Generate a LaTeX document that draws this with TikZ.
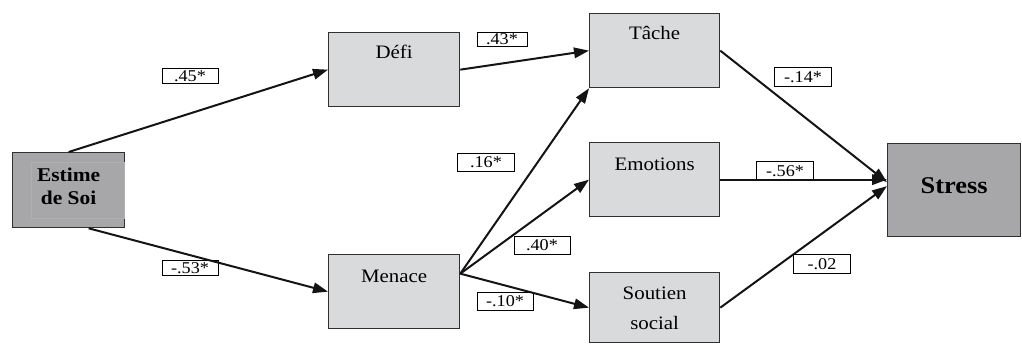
\documentclass[tikz,border=0pt]{standalone}
\usepackage{fontspec}
\setmainfont[FakeStretch=1.1]{Liberation Serif}
\usetikzlibrary{arrows.meta}
\definecolor{boxfill}{HTML}{D9DADC}
\definecolor{darkfill}{HTML}{A7A7A9}
\definecolor{boxedge}{HTML}{303030}
\definecolor{faintedge}{HTML}{AFAFB1}
\newcommand\mybtext[4]{\parbox[c][#2][t]{#1}{\centering\rule{0pt}{#3}#4}}
\begin{document}
\begin{tikzpicture}[x=1pt,y=-1pt,
  box/.style={draw=boxedge, line width=1.3pt, fill=boxfill, inner sep=0pt, anchor=north west,
    font=\fontsize{19}{22}\selectfont},
  darkbox/.style={box, fill=darkfill, font=\fontsize{19.5}{23}\selectfont\bfseries},
  lab/.style={draw=black, line width=1pt, fill=white, inner sep=0pt,
    font=\fontsize{16.5}{17}\selectfont},
  arr/.style={line width=2pt, draw=black!92, -{Triangle[length=15pt,width=10.5pt]}},
]
\useasboundingbox (0,0) rectangle (1022,343);
% boxes
\node[darkbox] (estime) at (12,152) {\mybtext{112pt}{75pt}{29pt}{Estime\\de Soi}};
\draw[faintedge, line width=0.5pt] ([xshift=19pt,yshift=-10pt]estime.north west) rectangle ([xshift=-1pt,yshift=10pt]estime.south east);
\node[box] (defi) at (328,32) {\mybtext{131pt}{74pt}{26pt}{Défi}};
\node[box] (menace) at (328,254) {\mybtext{131pt}{74pt}{28pt}{Menace}};
\node[box] (tache) at (589,13) {\mybtext{130pt}{74pt}{26pt}{Tâche}};
\node[box] (emotions) at (589,142) {\mybtext{130pt}{74pt}{28pt}{Emotions}};
\node[box, font=\fontsize{19}{30}\selectfont] (soutien) at (589,272) {\mybtext{130pt}{70pt}{27pt}{Soutien\\social}};
\node[darkbox, font=\fontsize{24}{28}\selectfont\bfseries] (stress) at (887,143) {\mybtext{133pt}{93pt}{50pt}{Stress}};
% labels
\node[lab, minimum width=56pt, minimum height=15pt] (l45) at (190,76) {.45*};
\node[lab, minimum width=56pt, minimum height=15pt] (l53) at (190,268) {-.53*};
\node[lab, minimum width=50pt, minimum height=14pt] (l43) at (502,39) {.43*};
\node[lab, minimum width=57pt, minimum height=18pt] (l16) at (486,162) {.16*};
\node[lab, minimum width=56pt, minimum height=18pt] (l40) at (542,245) {.40*};
\node[lab, minimum width=56pt, minimum height=18pt] (l10) at (505,301) {-.10*};
\node[lab, minimum width=57pt, minimum height=19pt] (l14) at (803,77) {-.14*};
\node[lab, minimum width=57pt, minimum height=19pt] (l56) at (785,171) {-.56*};
\node[lab, minimum width=57pt, minimum height=19pt] (l02) at (822,264) {-.02};
% arrows
\draw[arr] (estime.north) -- (defi.west);
\draw[arr] ([xshift=20pt]estime.south) -- (menace.west);
\draw[arr] (defi.east) -- (tache.west);
\draw[arr] ([yshift=18pt]menace.east) -- (tache.south west);
\draw[arr] ([yshift=18pt]menace.east) -- (emotions.west);
\draw[arr] ([yshift=18pt]menace.east) -- (soutien.west);
\draw[arr] (tache.east) -- ([yshift=8pt]stress.west);
\draw[arr] (emotions.east) -- (stress.west |- emotions.east);
\draw[arr] (soutien.east) -- ([yshift=4pt]stress.west);
\end{tikzpicture}
\end{document}
